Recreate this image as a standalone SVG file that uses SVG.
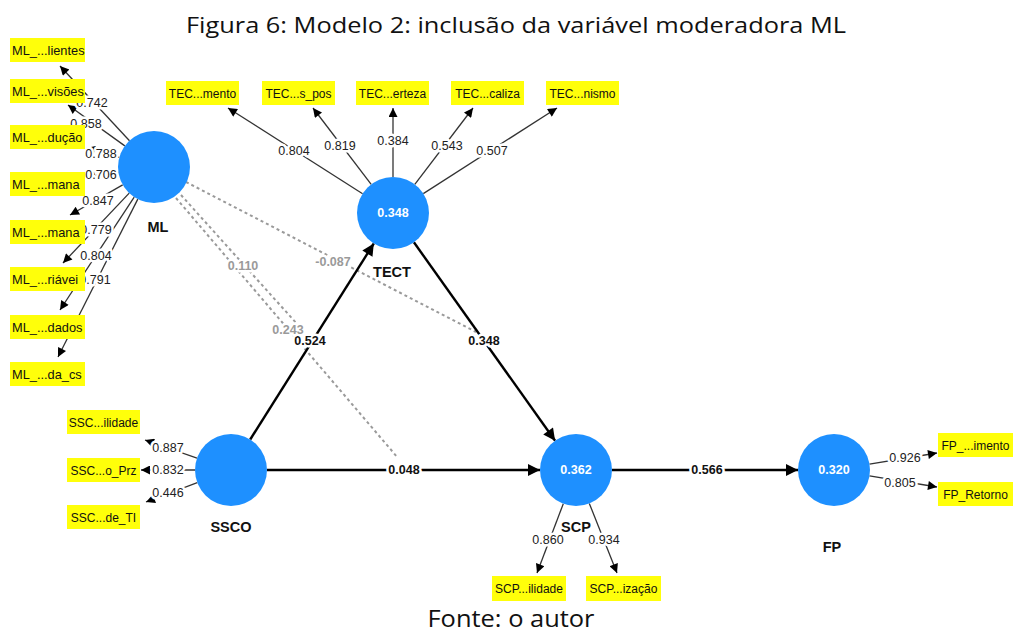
<svg xmlns="http://www.w3.org/2000/svg" width="1016" height="635" viewBox="0 0 1016 635">
<style>
.ind rect{fill:#ffff0a}
.ind text{font-family:"Liberation Sans",Arial,sans-serif;font-size:12px;fill:#111}
.ml text{font-size:12.8px}
.lv circle{fill:#1e90ff}
.r2{font-family:"Liberation Sans",Arial,sans-serif;font-size:12.5px;font-weight:bold;fill:#fff;text-anchor:middle}
.nm{font-family:"Liberation Sans",Arial,sans-serif;font-size:14.5px;font-weight:bold;fill:#111;text-anchor:middle}
.ld{stroke:#333;stroke-width:1.3;marker-end:url(#ah)}
.pt{stroke:#000;stroke-width:2.4;marker-end:url(#ahb)}
.md{stroke:#9a9a9a;stroke-width:2;stroke-dasharray:3 3;fill:none}
.lb{font-family:"Liberation Sans",Arial,sans-serif;font-size:12.5px;fill:#222;text-anchor:middle;stroke:#fff;stroke-width:5;stroke-linejoin:round;paint-order:stroke}
.pc{font-family:"Liberation Sans",Arial,sans-serif;font-size:12.5px;font-weight:bold;fill:#111;text-anchor:middle;stroke:#fff;stroke-width:5;stroke-linejoin:round;paint-order:stroke}
.mc{font-family:"Liberation Sans",Arial,sans-serif;font-size:12.5px;font-weight:bold;fill:#9a9a9a;text-anchor:middle;stroke:#fff;stroke-width:5;stroke-linejoin:round;paint-order:stroke}
.cap{font-family:"Open Sans","Liberation Sans",sans-serif;fill:#111;text-anchor:middle}
</style>
<defs>
<marker id="ah" viewBox="0 0 10 10" refX="10" refY="5" markerWidth="11" markerHeight="9" markerUnits="userSpaceOnUse" orient="auto"><path d="M0,0 L10,5 L0,10 z" fill="#000"/></marker>
<marker id="ahb" viewBox="0 0 10 10" refX="10" refY="5" markerWidth="15" markerHeight="12" markerUnits="userSpaceOnUse" orient="auto"><path d="M0,0 L10,5 L0,10 z" fill="#000"/></marker>
</defs>
<rect width="1016" height="635" fill="#fff"/>
<text class="cap" x="516" y="33" font-size="21.5" textLength="660" lengthAdjust="spacingAndGlyphs">Figura 6: Modelo 2: inclusão da variável moderadora ML</text>
<text class="cap" x="511" y="627" font-size="23" textLength="167" lengthAdjust="spacingAndGlyphs">Fonte: o autor</text>

<g id="connectors">
<line class="md" x1="186" y1="182" x2="476" y2="332"/>
<line class="md" x1="181" y1="195" x2="298" y2="325"/>
<line class="md" x1="176" y1="198" x2="398" y2="458"/>
<line class="ld" x1="129.5" y1="140.7" x2="60" y2="66"/>
<line class="ld" x1="124.8" y1="145.9" x2="68" y2="105"/>
<line class="ld" x1="119.3" y1="157.3" x2="86" y2="148"/>
<line class="ld" x1="118.4" y1="172.2" x2="86" y2="177"/>
<line class="ld" x1="122.7" y1="184.9" x2="70" y2="215"/>
<line class="ld" x1="129.2" y1="193.1" x2="63" y2="263"/>
<line class="ld" x1="134.2" y1="197.1" x2="60" y2="310"/>
<line class="ld" x1="137.8" y1="199.1" x2="58" y2="357"/>
<line class="ld" x1="362.6" y1="193.7" x2="228" y2="108"/>
<line class="ld" x1="371.2" y1="184.4" x2="313" y2="108"/>
<line class="ld" x1="393" y1="177" x2="393" y2="108"/>
<line class="ld" x1="414.8" y1="184.4" x2="473" y2="108"/>
<line class="ld" x1="423.3" y1="193.6" x2="557" y2="108"/>
<line class="ld" x1="197" y1="458.1" x2="145" y2="440"/>
<line class="ld" x1="195" y1="470" x2="141" y2="470"/>
<line class="ld" x1="197.3" y1="482.7" x2="146" y2="502"/>
<line class="ld" x1="563.3" y1="503.7" x2="537" y2="573"/>
<line class="ld" x1="589.3" y1="503.4" x2="617" y2="573"/>
<line class="ld" x1="869.5" y1="464.1" x2="937" y2="453"/>
<line class="ld" x1="869.5" y1="475.9" x2="937" y2="487"/>
<line class="pt" x1="250.2" y1="439.5" x2="373.8" y2="243.5"/>
<line class="pt" x1="413.9" y1="242.3" x2="555.1" y2="440.7"/>
<line class="pt" x1="267" y1="470" x2="540" y2="470"/>
<line class="pt" x1="612" y1="470" x2="798" y2="470"/>
<text class="lb" x="92" y="107">0.742</text>
<text class="lb" x="86" y="128">0.858</text>
<text class="lb" x="101" y="158">0.788</text>
<text class="lb" x="101" y="179">0.706</text>
<text class="lb" x="98" y="205">0.847</text>
<text class="lb" x="96" y="234">0.779</text>
<text class="lb" x="96" y="260">0.804</text>
<text class="lb" x="95" y="284">0.791</text>
<text class="lb" x="294" y="155">0.804</text>
<text class="lb" x="340" y="150">0.819</text>
<text class="lb" x="393" y="145">0.384</text>
<text class="lb" x="447" y="150">0.543</text>
<text class="lb" x="492" y="155">0.507</text>
<text class="lb" x="168" y="452">0.887</text>
<text class="lb" x="168" y="474">0.832</text>
<text class="lb" x="168" y="497">0.446</text>
<text class="lb" x="548" y="544">0.860</text>
<text class="lb" x="604" y="544">0.934</text>
<text class="lb" x="905" y="462">0.926</text>
<text class="lb" x="900" y="487">0.805</text>
<text class="pc" x="310" y="345">0.524</text>
<text class="pc" x="484" y="345">0.348</text>
<text class="pc" x="404" y="474">0.048</text>
<text class="pc" x="707" y="474">0.566</text>
<text class="mc" x="243" y="270">0.110</text>
<text class="mc" x="333" y="266">-0.087</text>
<text class="mc" x="288" y="334">0.243</text>
</g>

<g id="ML" class="lv"><circle cx="154" cy="167" r="36"/><text class="nm" x="158" y="232">ML</text></g>
<g id="TECT" class="lv"><circle cx="393" cy="213" r="36"/><text class="r2" x="393" y="217">0.348</text><text class="nm" x="392" y="277">TECT</text></g>
<g id="SSCO" class="lv"><circle cx="231" cy="470" r="36"/><text class="nm" x="231" y="532">SSCO</text></g>
<g id="SCP" class="lv"><circle cx="576" cy="470" r="36"/><text class="r2" x="576" y="474">0.362</text><text class="nm" x="576" y="532">SCP</text></g>
<g id="FP" class="lv"><circle cx="834" cy="470" r="36"/><text class="r2" x="834" y="474">0.320</text><text class="nm" x="832" y="552">FP</text></g>

<g id="ML_lientes" class="ind ml"><rect x="10" y="38" width="75" height="24"/><text x="12" y="54.5">ML_...lientes</text></g>
<g id="ML_visoes" class="ind ml"><rect x="10" y="79" width="75" height="24"/><text x="12" y="95.5">ML_...visões</text></g>
<g id="ML_ducao" class="ind ml"><rect x="10" y="125" width="75" height="24"/><text x="12" y="141.5">ML_...dução</text></g>
<g id="ML_mana1" class="ind ml"><rect x="10" y="172" width="75" height="24"/><text x="12" y="188.5">ML_...mana</text></g>
<g id="ML_mana2" class="ind ml"><rect x="10" y="220" width="75" height="24"/><text x="12" y="236.5">ML_...mana</text></g>
<g id="ML_riavei" class="ind ml"><rect x="10" y="267" width="75" height="24"/><text x="12" y="283.5">ML_...riávei</text></g>
<g id="ML_dados" class="ind ml"><rect x="10" y="315" width="75" height="24"/><text x="12" y="331.5">ML_...dados</text></g>
<g id="ML_da_cs" class="ind ml"><rect x="10" y="362" width="75" height="24"/><text x="12" y="378.5">ML_...da_cs</text></g>

<g id="TEC_mento" class="ind"><rect x="166" y="81" width="73" height="24"/><text x="202.5" y="97.5" text-anchor="middle">TEC...mento</text></g>
<g id="TEC_s_pos" class="ind"><rect x="262" y="81" width="73" height="24"/><text x="298.5" y="97.5" text-anchor="middle">TEC...s_pos</text></g>
<g id="TEC_erteza" class="ind"><rect x="356" y="81" width="73" height="24"/><text x="392.5" y="97.5" text-anchor="middle">TEC...erteza</text></g>
<g id="TEC_caliza" class="ind"><rect x="451" y="81" width="73" height="24"/><text x="487.5" y="97.5" text-anchor="middle">TEC...caliza</text></g>
<g id="TEC_nismo" class="ind"><rect x="546" y="81" width="73" height="24"/><text x="582.5" y="97.5" text-anchor="middle">TEC...nismo</text></g>

<g id="SSC_ilidade" class="ind"><rect x="67" y="410" width="73" height="24"/><text x="103.5" y="426.5" text-anchor="middle">SSC...ilidade</text></g>
<g id="SSC_o_Prz" class="ind"><rect x="67" y="458" width="73" height="24"/><text x="103.5" y="474.5" text-anchor="middle">SSC...o_Prz</text></g>
<g id="SSC_de_TI" class="ind"><rect x="67" y="505" width="73" height="24"/><text x="103.5" y="521.5" text-anchor="middle">SSC...de_TI</text></g>

<g id="SCP_ilidade" class="ind"><rect x="492" y="576" width="74" height="25"/><text x="529" y="593" text-anchor="middle">SCP...ilidade</text></g>
<g id="SCP_izacao" class="ind"><rect x="586" y="576" width="75" height="25"/><text x="623.5" y="593" text-anchor="middle">SCP...ização</text></g>

<g id="FP_imento" class="ind"><rect x="938" y="433" width="75" height="24"/><text x="975.5" y="449.5" text-anchor="middle">FP_...imento</text></g>
<g id="FP_Retorno" class="ind"><rect x="938" y="482" width="75" height="24"/><text x="975.5" y="498.5" text-anchor="middle">FP_Retorno</text></g>
</svg>
